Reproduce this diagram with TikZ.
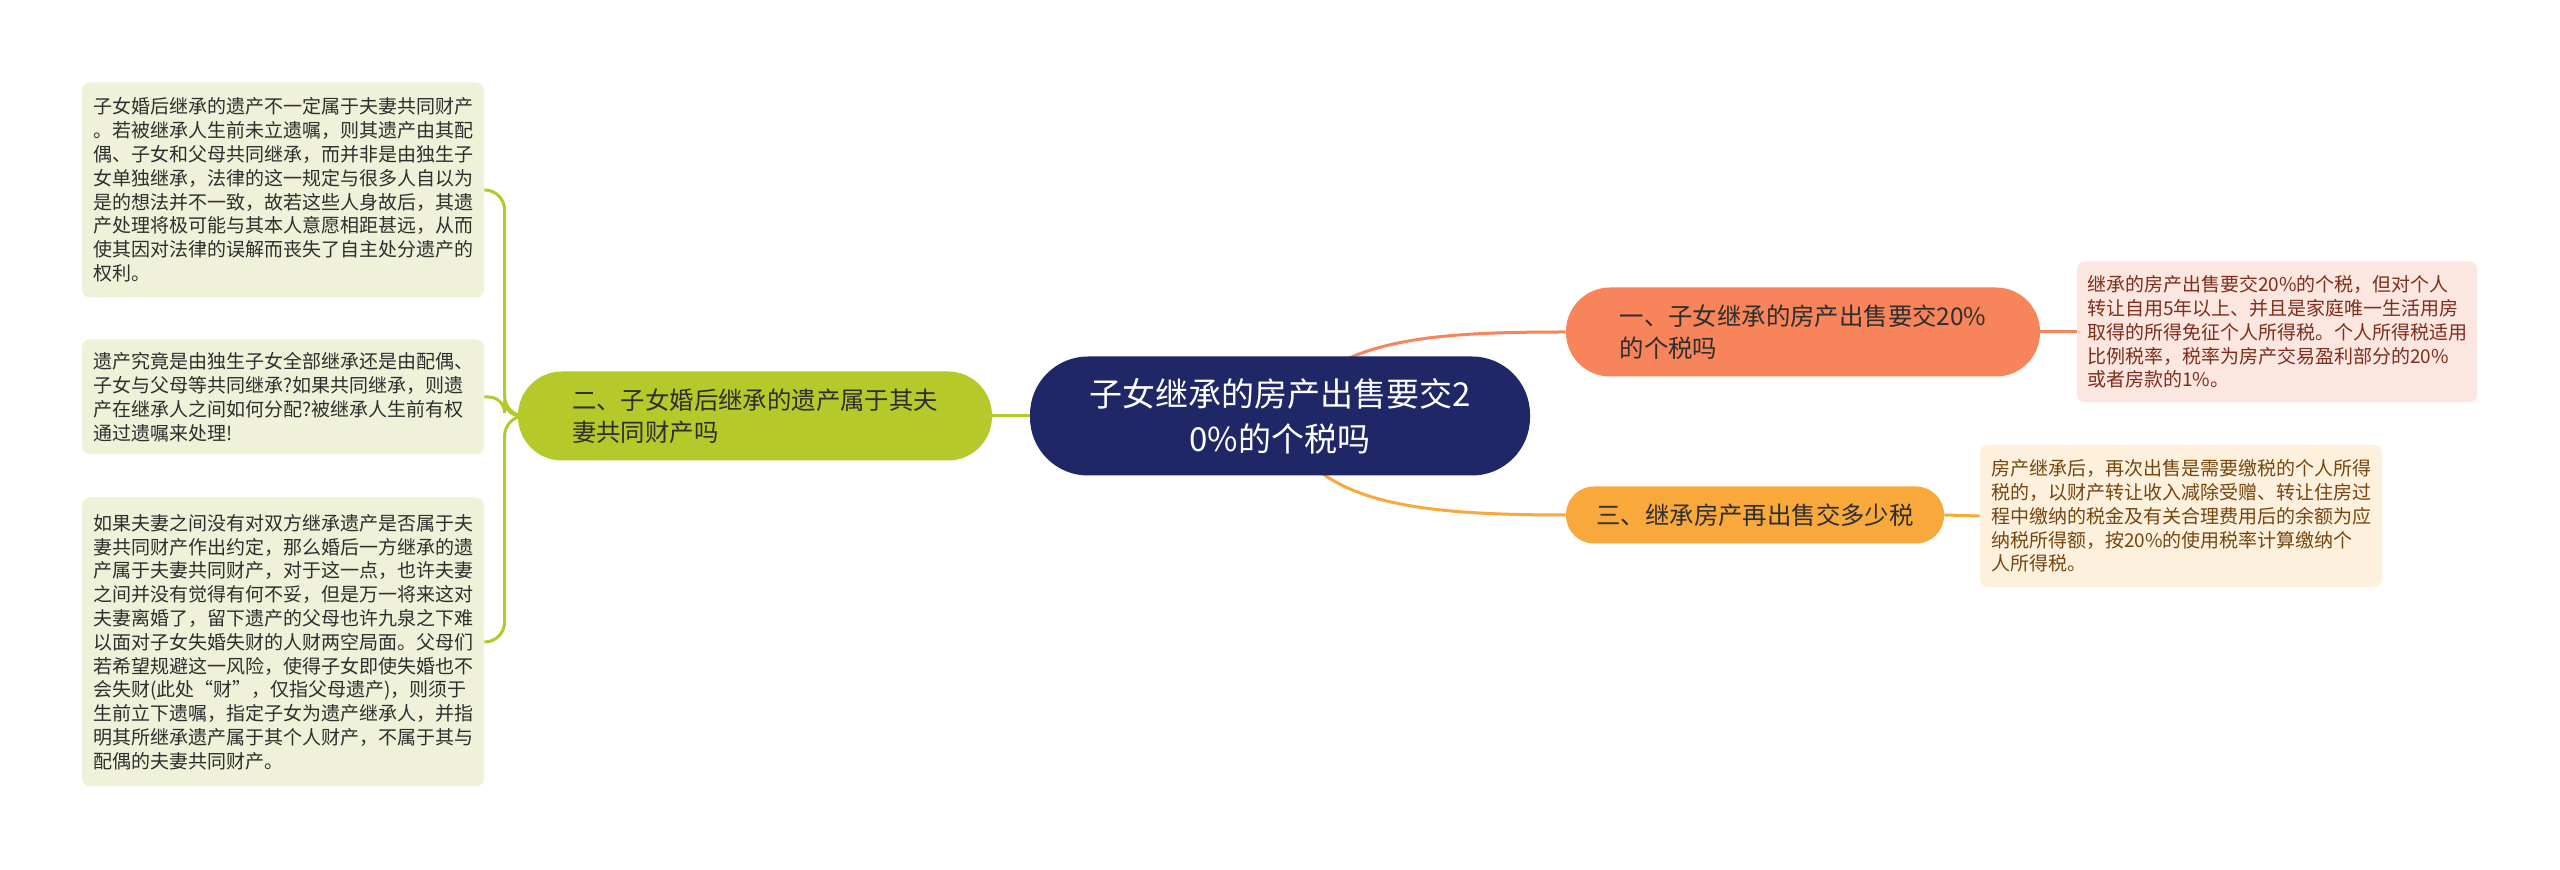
\documentclass[tikz,border=0pt]{standalone}
\usepackage{fontspec}
\setmainfont{Noto Sans CJK SC}
\usetikzlibrary{backgrounds}
\definecolor{rootBlue}{HTML}{1F2767}
\definecolor{twoGreen}{HTML}{B5C92B}
\definecolor{oneCoral}{HTML}{F7845A}
\definecolor{threeAmber}{HTML}{F9A93B}
\definecolor{leafGreen}{HTML}{EFF2D9}
\definecolor{leafPink}{HTML}{FCE6E0}
\definecolor{leafCream}{HTML}{FDF1DE}
\definecolor{inkDark}{HTML}{2E2E2E}
\definecolor{inkRed}{HTML}{7D2E1C}
\definecolor{inkBrown}{HTML}{74460F}

\begin{document}
\begin{tikzpicture}[
    x=0.5pt, y=-0.5pt,
    rootbox/.style={rectangle, rounded corners=29pt, fill=rootBlue, text=white, align=center,
        minimum width=250pt, minimum height=59.5pt, inner sep=0pt,
        font=\fontsize{16.5}{22.5}\selectfont},
    branchbox/.style={rectangle, rounded corners=22pt, align=left, text=inkDark, inner sep=0pt,
        minimum width=237pt, minimum height=44.5pt, font=\fontsize{12.2}{16}\selectfont},
    leafbox/.style={rectangle, rounded corners=4pt, align=left, inner sep=0pt,
        minimum width=201pt, font=\fontsize{9.5}{11.9}\selectfont},
    link/.style={line width=1.5pt}
]
\useasboundingbox (0,0) rectangle (2560,870);

% Root
\node[rootbox] (root) at (1280,416) {子女继承的房产出售要交2\\0\%的个税吗};

% Branches
\node[branchbox, fill=twoGreen] (b2) at (755,416) {二、子女婚后继承的遗产属于其夫\\妻共同财产吗};
\node[branchbox, fill=oneCoral] (b1) at (1803,332) {一、子女继承的房产出售要交20\%\\的个税吗};
\node[branchbox, fill=threeAmber, minimum width=189pt, minimum height=28.5pt, rounded corners=14pt] (b3) at (1755,515) {三、继承房产再出售交多少税};

% Leaves on the left
\node[leafbox, fill=leafGreen, text=inkDark, minimum height=107.5pt] (l1) at (283,190) {子女婚后继承的遗产不一定属于夫妻共同财产\\。若被继承人生前未立遗嘱，则其遗产由其配\\偶、子女和父母共同继承，而并非是由独生子\\女单独继承，法律的这一规定与很多人自以为\\是的想法并不一致，故若这些人身故后，其遗\\产处理将极可能与其本人意愿相距甚远，从而\\使其因对法律的误解而丧失了自主处分遗产的\\权利。};
\node[leafbox, fill=leafGreen, text=inkDark, minimum height=57.5pt] (l2) at (283,397) {遗产究竟是由独生子女全部继承还是由配偶、\\子女与父母等共同继承?如果共同继承，则遗\\产在继承人之间如何分配?被继承人生前有权\\通过遗嘱来处理!};
\node[leafbox, fill=leafGreen, text=inkDark, minimum height=144.5pt] (l3) at (283,642) {如果夫妻之间没有对双方继承遗产是否属于夫\\妻共同财产作出约定，那么婚后一方继承的遗\\产属于夫妻共同财产，对于这一点，也许夫妻\\之间并没有觉得有何不妥，但是万一将来这对\\夫妻离婚了，留下遗产的父母也许九泉之下难\\以面对子女失婚失财的人财两空局面。父母们\\若希望规避这一风险，使得子女即使失婚也不\\会失财(此处“财”，仅指父母遗产)，则须于\\生前立下遗嘱，指定子女为遗产继承人，并指\\明其所继承遗产属于其个人财产，不属于其与\\配偶的夫妻共同财产。};

% Leaves on the right
\node[leafbox, fill=leafPink, text=inkRed, minimum width=200pt, minimum height=70.5pt] (r1) at (2277,332) {继承的房产出售要交20\%的个税，但对个人\\转让自用5年以上、并且是家庭唯一生活用房\\取得的所得免征个人所得税。个人所得税适用\\比例税率，税率为房产交易盈利部分的20\%\\或者房款的1\%。};
\node[leafbox, fill=leafCream, text=inkBrown, minimum height=71pt] (r3) at (2181,516) {房产继承后，再次出售是需要缴税的个人所得\\税的，以财产转让收入减除受赠、转让住房过\\程中缴纳的税金及有关合理费用后的余额为应\\纳税所得额，按20\%的使用税率计算缴纳个\\人所得税。};

% Connectors
\begin{scope}[on background layer]
\fill[white] (0,0) rectangle (2560,870);
\draw[link, twoGreen] (root.center) -- (b2.east);
\draw[link, oneCoral] (root.center) .. controls (1330,340) and (1420,332) .. (b1.west);
\draw[link, threeAmber] (root.center) .. controls (1310,500) and (1400,515) .. (b3.west);
\draw[link, oneCoral] (b1.east) -- (r1.west);
\draw[link, threeAmber] (b3.east) -- (r3.west);
\draw[link, twoGreen, rounded corners=10pt] (b2.west) -- ++(-13,0) |- (l1.east);
\draw[link, twoGreen, rounded corners=8pt] (b2.west) -- ++(-13,0) |- (l2.east);
\draw[link, twoGreen, rounded corners=10pt] (b2.west) -- ++(-13,0) |- (l3.east);
\end{scope}
\end{tikzpicture}
\end{document}
